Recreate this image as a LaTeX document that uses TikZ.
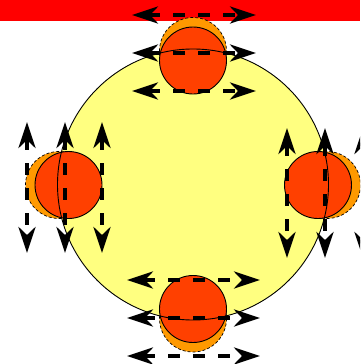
\documentclass[tikz,border=0pt]{standalone}
\usetikzlibrary{arrows.meta}
\definecolor{bar}{RGB}{255,0,0}
\definecolor{earth}{RGB}{255,255,128}
\definecolor{bulge}{RGB}{255,64,0}
\definecolor{shadow}{RGB}{255,153,0}
\tikzset{
  dbl/.style={line width=4pt, dash pattern=on 12pt off 13pt,
    {Stealth[length=26pt,width=17pt,inset=8pt]}-{Stealth[length=26pt,width=17pt,inset=8pt]}},
  redball/.style={fill=bulge, draw=black, line width=0.9pt},
  orangeball/.style={fill=shadow, draw=black, line width=0.7pt, dash pattern=on 3pt off 2pt}
}
\begin{document}
\begin{tikzpicture}[x=1pt,y=-1pt]
\useasboundingbox (0,0) rectangle (360,364);
\clip (0,0) rectangle (360,364);
\fill[bar] (0,0) rectangle (360,20.7);
\fill[earth] (193,184.5) circle (135.5);
% shadows
\draw[orangeball] (193,51) circle (33.5);
\draw[orangeball] (59,185) circle (33.5);
\draw[orangeball] (327,185) circle (33.5);
\draw[orangeball] (193,318.5) circle (33.5);
% bulges
\draw[redball] (193,60.5) circle (33.5);
\draw[redball] (68.5,185) circle (33.5);
\draw[redball] (318,185) circle (33.5);
\draw[redball] (193,309) circle (33.5);
\draw[line width=0.9pt] (193,184.5) circle (135.5);
% arrows top
\foreach \y in {15,53,91} \draw[dbl] (132,\y) -- (256,\y);
% arrows bottom
\foreach \y in {280,318,356} \draw[dbl] (127,\y) -- (260,\y);
% arrows left
\foreach \x in {27,65,102} \draw[dbl] (\x,122) -- (\x,253);
% arrows right
\foreach \x in {287,325,363} \draw[dbl] (\x,128) -- (\x,258);
\end{tikzpicture}
\end{document}
